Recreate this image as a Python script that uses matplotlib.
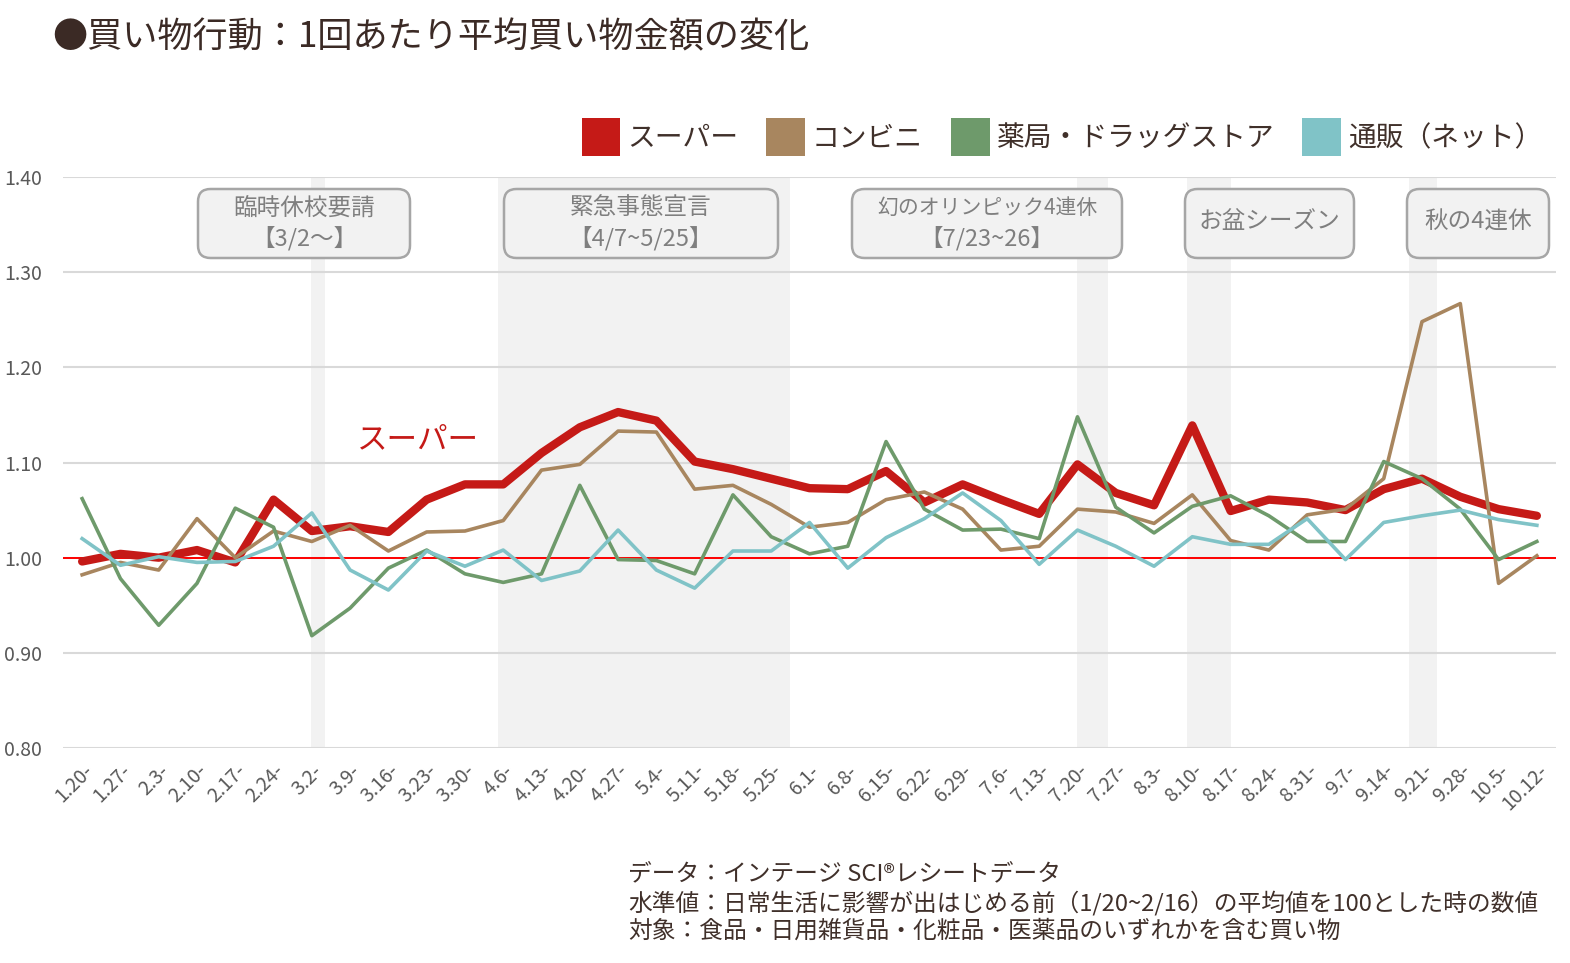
import matplotlib
matplotlib.use("Agg")
import matplotlib.pyplot as plt
from matplotlib.patches import FancyBboxPatch, Patch
import numpy as np

plt.rcParams['font.family'] = ['Noto Sans CJK JP', 'DejaVu Sans']

# --- data -----------------------------------------------------------------
weeks = ['1.20-', '1.27-', '2.3-', '2.10-', '2.17-', '2.24-', '3.2-', '3.9-', '3.16-',
         '3.23-', '3.30-', '4.6-', '4.13-', '4.20-', '4.27-', '5.4-', '5.11-', '5.18-',
         '5.25-', '6.1-', '6.8-', '6.15-', '6.22-', '6.29-', '7.6-', '7.13-', '7.20-',
         '7.27-', '8.3-', '8.10-', '8.17-', '8.24-', '8.31-', '9.7-', '9.14-', '9.21-',
         '9.28-', '10.5-', '10.12-']

super_ = [0.996, 1.004, 1.000, 1.008, 0.995, 1.061, 1.028, 1.033, 1.027, 1.061,
          1.077, 1.077, 1.110, 1.137, 1.153, 1.144, 1.101, 1.093, 1.083, 1.073,
          1.072, 1.091, 1.058, 1.077, 1.061, 1.046, 1.098, 1.068, 1.055, 1.139,
          1.049, 1.061, 1.058, 1.050, 1.072, 1.083, 1.064, 1.051, 1.044]
konbini = [0.982, 0.995, 0.987, 1.041, 1.000, 1.028, 1.017, 1.034, 1.007, 1.027,
           1.028, 1.039, 1.092, 1.098, 1.133, 1.132, 1.072, 1.076, 1.056, 1.032,
           1.037, 1.061, 1.069, 1.051, 1.008, 1.012, 1.051, 1.048, 1.036, 1.066,
           1.018, 1.008, 1.045, 1.051, 1.083, 1.248, 1.267, 0.973, 1.002]
drug = [1.062, 0.978, 0.929, 0.973, 1.052, 1.032, 0.918, 0.947, 0.989, 1.008,
        0.983, 0.974, 0.983, 1.076, 0.998, 0.997, 0.983, 1.066, 1.022, 1.004,
        1.012, 1.122, 1.051, 1.029, 1.030, 1.020, 1.148, 1.053, 1.026, 1.054,
        1.065, 1.044, 1.017, 1.017, 1.101, 1.083, 1.051, 0.998, 1.017]
online = [1.020, 0.992, 1.001, 0.995, 0.996, 1.012, 1.047, 0.987, 0.966, 1.007,
          0.991, 1.008, 0.976, 0.986, 1.029, 0.987, 0.968, 1.007, 1.007, 1.037,
          0.989, 1.021, 1.041, 1.068, 1.039, 0.993, 1.029, 1.012, 0.991, 1.022,
          1.014, 1.014, 1.041, 0.998, 1.037, 1.044, 1.050, 1.040, 1.034]

series_names = ['スーパー', 'コンビニ', '薬局・ドラッグストア', '通販（ネット）']
series_colors = ['#c51a17', '#a8865f', '#6e9a6b', '#80c3c7']

# shaded periods (in week-index units) and their labels
spans = [(5.98, 6.34), (10.86, 18.5), (25.98, 26.8), (28.85, 30.0), (34.65, 35.4)]
event_line1 = ['臨時休校要請', '緊急事態宣言', '幻のオリンピック4連休', 'お盆シーズン', '秋の4連休']
event_line2 = ['【3/2〜】', '【4/7~5/25】', '【7/23~26】', '', '']
event_box_px = [(198, 410), (504, 778), (852, 1122), (1185, 1354), (1407, 1549)]

W, H = 1570, 963
fig = plt.figure(figsize=(W / 100, H / 100), dpi=100)
ax = fig.add_axes([63 / W, 1 - 748 / H, (1556 - 63) / W, (748 - 177) / H])

x = np.arange(len(weeks))

for a, b in spans:
    ax.axvspan(a, b, color='#f2f2f2', lw=0, zorder=0)

ax.set_ylim(0.8, 1.4)
ax.set_xlim(-0.5, len(weeks) - 0.5)
ax.set_yticks(np.arange(0.8, 1.41, 0.1))
ax.set_yticklabels([f'{v:.2f}' for v in np.arange(0.8, 1.41, 0.1)])
ax.yaxis.grid(True, color='#d9d9d9', lw=1.5, zorder=1)
ax.set_axisbelow(True)
for s in ax.spines.values():
    s.set_visible(False)
ax.tick_params(length=0, colors='#595959')
ax.tick_params(axis='y', labelsize=14, pad=15)
ax.set_xticks(x)
ax.set_xticklabels(weeks, rotation=45, ha='right', va='top',
                   rotation_mode='anchor', fontsize=14)
ax.tick_params(axis='x', pad=9)

ax.axhline(1.0, color='#ff0000', lw=1.4, zorder=2)

ax.plot(x, super_, color=series_colors[0], lw=6, zorder=3, solid_capstyle='round')
ax.plot(x, konbini, color=series_colors[1], lw=2.6, zorder=4)
ax.plot(x, drug, color=series_colors[2], lw=2.6, zorder=5)
ax.plot(x, online, color=series_colors[3], lw=2.6, zorder=6)

ax.text(8.77, 1.124, 'スーパー', color='#c51a17', fontsize=22, ha='center', va='center')

# event boxes
for (l, r), t1, t2 in zip(event_box_px, event_line1, event_line2):
    box = FancyBboxPatch((l / W, 1 - 258 / H), (r - l) / W, 69 / H,
                         boxstyle='round,pad=0,rounding_size=0.008',
                         mutation_aspect=W / H, transform=fig.transFigure,
                         facecolor='#f2f2f2', edgecolor='#a6a6a6', lw=1.8, zorder=10)
    fig.patches.append(box)
    cx = (l + r) / 2 / W
    fs1 = 15 if len(t1) > 8 else 17
    if t2:
        fig.text(cx, 1 - 208 / H, t1, ha='center', va='center', fontsize=fs1,
                 color='#7f7f7f', zorder=11)
        fig.text(cx, 1 - 238 / H, t2, ha='center', va='center', fontsize=17,
                 color='#7f7f7f', zorder=11)
    else:
        fig.text(cx, 1 - 222 / H, t1, ha='center', va='center', fontsize=fs1,
                 color='#7f7f7f', zorder=11)

# legend
handles = [Patch(facecolor=c, edgecolor='none') for c in series_colors]
fig.legend(handles, series_names, loc='center right', ncol=4,
           bbox_to_anchor=(1556 / W, 1 - 137 / H), frameon=False, fontsize=20,
           handlelength=1.4, handleheight=1.7, handletextpad=0.25,
           columnspacing=1.0, borderpad=0, labelcolor='#40302a')

fig.text(52 / W, 1 - 37 / H, '●買い物行動：1回あたり平均買い物金額の変化',
         fontsize=25.3, color='#3b2a25', ha='left', va='center')

fig.text(628 / W, 1 - 903 / H,
         'データ：インテージ SCI®レシートデータ\n'
         '水準値：日常生活に影響が出はじめる前（1/20~2/16）の平均値を100とした時の数値\n'
         '対象：食品・日用雑貨品・化粧品・医薬品のいずれかを含む買い物',
         fontsize=17.1, color='#40302a', ha='left', va='center', linespacing=1.2)

fig.savefig('out.png', dpi=100)
